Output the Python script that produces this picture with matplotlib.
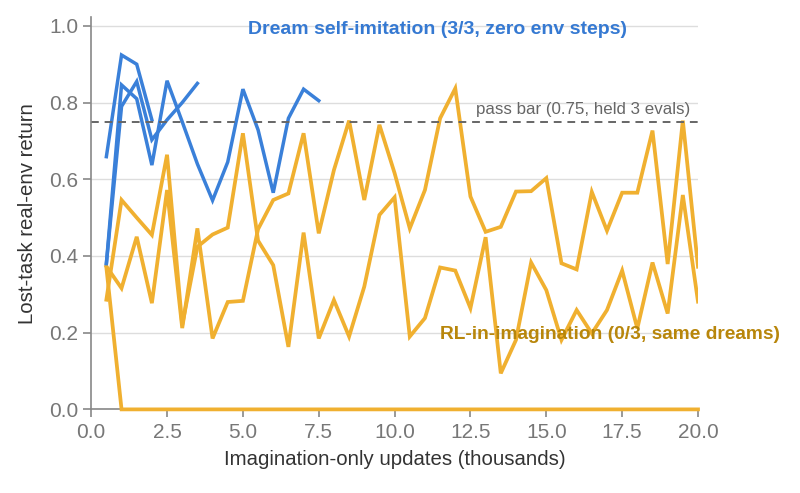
import matplotlib
matplotlib.use("Agg")
import matplotlib.pyplot as plt

plt.rcParams['font.family'] = ['Liberation Sans', 'DejaVu Sans']

# evaluation points (thousands of imagination-only updates)
steps = [0.5, 1.0, 1.5, 2.0, 2.5, 3.0, 3.5, 4.0, 4.5, 5.0,
         5.5, 6.0, 6.5, 7.0, 7.5, 8.0, 8.5, 9.0, 9.5, 10.0,
         10.5, 11.0, 11.5, 12.0, 12.5, 13.0, 13.5, 14.0, 14.5, 15.0,
         15.5, 16.0, 16.5, 17.0, 17.5, 18.0, 18.5, 19.0, 19.5, 20.0]

# Dream self-imitation seeds (stop once pass bar reached)
dream_a = [0.659, 0.924, 0.900, 0.755]
dream_b = [0.380, 0.846, 0.810, 0.637, 0.857, 0.750, 0.640, 0.545,
           0.645, 0.835, 0.729, 0.565, 0.759, 0.835, 0.805]
dream_c = [0.380, 0.790, 0.855, 0.703, 0.755, 0.800, 0.850]

# RL-in-imagination seeds
rl_a = [0.286, 0.546, 0.500, 0.455, 0.664, 0.220, 0.424, 0.456, 0.474, 0.720,
        0.440, 0.376, 0.163, 0.461, 0.185, 0.285, 0.190, 0.320, 0.507, 0.553,
        0.190, 0.238, 0.370, 0.362, 0.264, 0.449, 0.094, 0.181, 0.383, 0.311,
        0.181, 0.259, 0.198, 0.259, 0.362, 0.211, 0.383, 0.250, 0.559, 0.281]
rl_b = [0.373, 0.316, 0.450, 0.277, 0.572, 0.212, 0.472, 0.185, 0.280, 0.283,
        0.470, 0.546, 0.563, 0.720, 0.459, 0.624, 0.753, 0.546, 0.742, 0.616,
        0.472, 0.572, 0.759, 0.837, 0.555, 0.463, 0.476, 0.568, 0.569, 0.603,
        0.381, 0.365, 0.567, 0.466, 0.565, 0.565, 0.727, 0.379, 0.753, 0.372]
rl_c = [0.370] + [0.0] * 39

pass_bar = 0.75

blue = '#3a80d9'
orange = '#f0b030'

fig = plt.figure(figsize=(8, 4.93), dpi=100)
ax = fig.add_axes([0.114, 0.1696, 0.7585, 0.795])

ax.plot(steps, rl_a, color=orange, lw=2.7, solid_joinstyle='miter')
ax.plot(steps, rl_b, color=orange, lw=2.7, solid_joinstyle='miter')
ax.plot(steps, rl_c, color=orange, lw=2.7, solid_joinstyle='miter', clip_on=False, zorder=3)
for s in (dream_a, dream_b, dream_c):
    ax.plot(steps[:len(s)], s, color=blue, lw=2.5, solid_joinstyle='miter')

ax.axhline(pass_bar, color='#666666', lw=1.4, ls=(0, (4, 3)))
ax.text(19.75, pass_bar + 0.012, 'pass bar (0.75, held 3 evals)', ha='right', va='bottom',
        fontsize=12.2, color='#666666')
ax.text(11.4, 0.99, 'Dream self-imitation (3/3, zero env steps)', ha='center', va='center',
        fontsize=14, fontweight='bold', color='#3579d2')
ax.text(11.5, 0.194, 'RL-in-imagination (0/3, same dreams)', ha='left', va='center',
        fontsize=13.8, fontweight='bold', color='#b8860b', clip_on=False)

ax.set_xlim(0, 20)
ax.set_ylim(0, 1.022)
ax.set_xticks([0, 2.5, 5, 7.5, 10, 12.5, 15, 17.5, 20])
ax.set_yticks([0, 0.2, 0.4, 0.6, 0.8, 1.0])
ax.xaxis.set_major_formatter(matplotlib.ticker.FormatStrFormatter('%.1f'))
ax.yaxis.set_major_formatter(matplotlib.ticker.FormatStrFormatter('%.1f'))
ax.grid(axis='y', color='#dddddd', lw=1)
ax.set_axisbelow(True)
for side in ('top', 'right'):
    ax.spines[side].set_visible(False)
for side in ('left', 'bottom'):
    ax.spines[side].set_color('#888888')
    ax.spines[side].set_linewidth(1.2)
ax.tick_params(colors='#888888', labelcolor='#777777', labelsize=15, length=6, width=1.2)
ax.set_xlabel('Imagination-only updates (thousands)', fontsize=14.7, color='#333333', labelpad=6)
ax.set_ylabel('Lost-task real-env return', fontsize=14.7, color='#333333', labelpad=8.5)

fig.savefig('out.png', dpi=100)
